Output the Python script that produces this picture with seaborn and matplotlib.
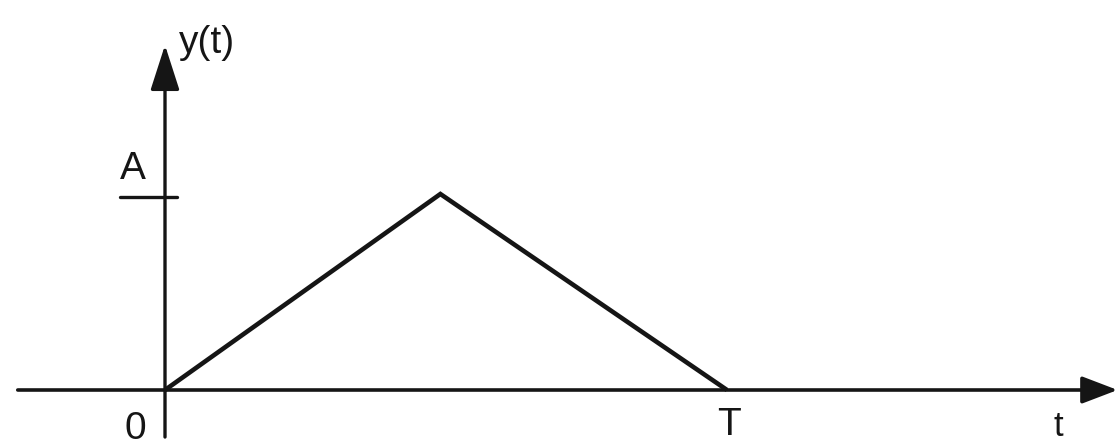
import matplotlib
matplotlib.use("Agg")
import matplotlib.pyplot as plt
import seaborn as sns
import pandas as pd

# triangle pulse y(t), t in units of T, y in units of A
t_vals = [0.0, 0.49, 1.0]
y_vals = [0.0, 1.0, 0.0]
amp_label = "A"
end_label = "T"
origin_label = "0"
x_name = "t"
y_name = "y(t)"

sns.set_theme(style="white")
plt.rcParams['font.family'] = ['Liberation Sans', 'DejaVu Sans']

df = pd.DataFrame({"t": t_vals, "y": y_vals})
ink = "#151515"

fig = plt.figure(figsize=(11.16, 4.46), dpi=100)
ax = fig.add_axes([0, 0, 1, 1])

# pixel-ish frame: 562 px per T, 196 px per A, origin at (165, 390)
ax.set_xlim(-165 / 562, (1116 - 165) / 562)
ax.set_ylim((390 - 446) / 196, 390 / 196)

sns.lineplot(data=df, x="t", y="y", color=ink, lw=3.3, ax=ax,
             solid_joinstyle="miter", solid_capstyle="butt")

# axes with arrows
ax.annotate("", xy=(1.695, 0), xytext=(-0.262, 0), annotation_clip=False,
            arrowprops=dict(arrowstyle="-|>,head_length=1.1,head_width=0.42",
                            mutation_scale=20, lw=2.6, color=ink,
                            shrinkA=0, shrinkB=0))
ax.annotate("", xy=(0, 1.76), xytext=(0, -0.24), annotation_clip=False,
            arrowprops=dict(arrowstyle="-|>,head_length=1.4,head_width=0.45",
                            mutation_scale=20, lw=2.4, color=ink,
                            shrinkA=0, shrinkB=0))

# amplitude tick
ax.plot([-0.08, 0.022], [max(y_vals) - 0.015] * 2, color=ink, lw=2.4)

fs = 28
ax.text(-0.058, 1.13, amp_label, fontsize=fs, color=ink, ha="center", va="center")
ax.text(0.025, 1.77, y_name, fontsize=fs, color=ink, ha="left", va="center")
ax.text(-0.052, -0.2, origin_label, fontsize=fs, color=ink, ha="center", va="center")
ax.text(t_vals[-1] + 0.004, -0.27, end_label, fontsize=fs, color=ink, ha="center", va="bottom")
ax.text(1.59, -0.27, x_name, fontsize=fs - 3, color=ink, ha="center", va="bottom")

ax.set_axis_off()
ax.set_xlabel("")
ax.set_ylabel("")
fig.savefig("out.png", dpi=100)
